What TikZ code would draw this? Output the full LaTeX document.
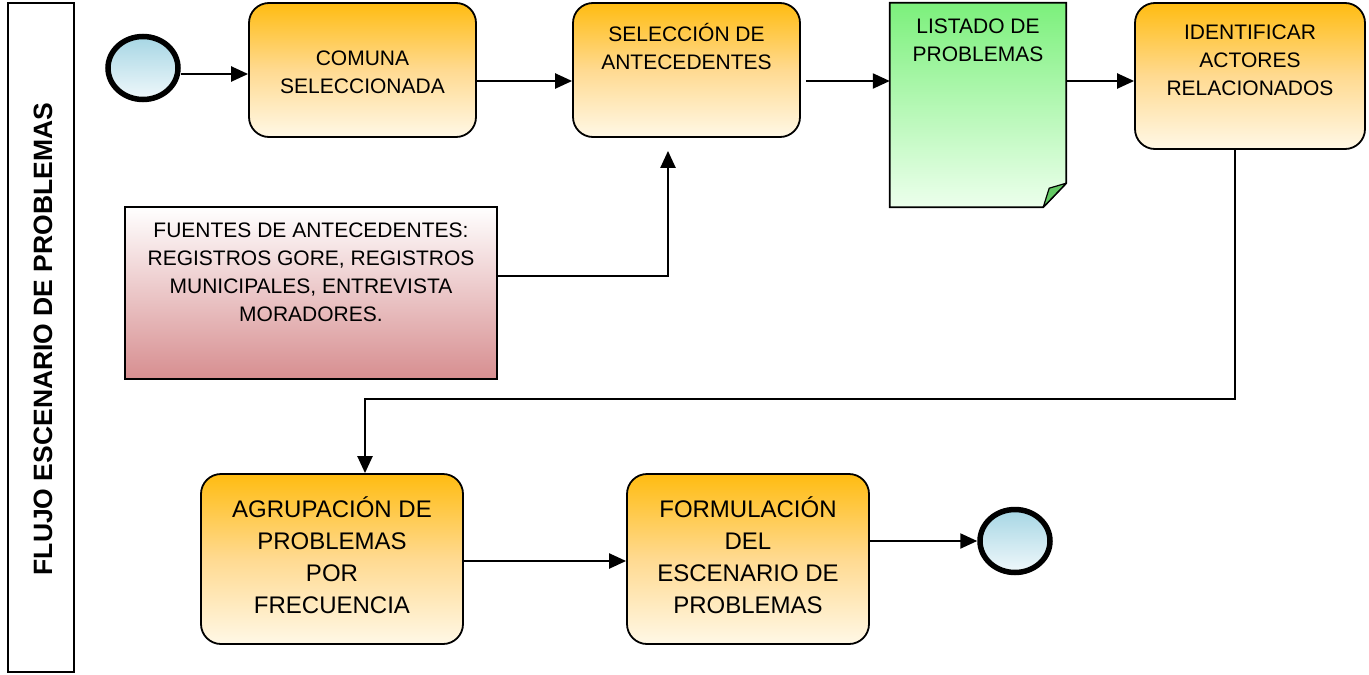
\documentclass[tikz,border=0pt]{standalone}
\usepackage{fontspec}
\setmainfont{Liberation Sans}
\usetikzlibrary{arrows.meta,shapes.geometric,calc}
\definecolor{orT}{RGB}{255,188,18}
\definecolor{orM}{RGB}{255,218,145}
\definecolor{orB}{RGB}{255,248,230}
\definecolor{grT}{RGB}{124,240,124}
\definecolor{grB}{RGB}{236,255,236}
\definecolor{grF}{RGB}{100,200,100}
\definecolor{blT}{RGB}{166,214,228}
\definecolor{blB}{RGB}{240,248,251}
\definecolor{rdB}{RGB}{215,142,144}
\begin{document}
\begin{tikzpicture}[x=1pt,y=-1pt,
  obox/.style={draw=black, line width=1.8pt, rounded corners=20pt, top color=orT, bottom color=orB, middle color=orM, inner sep=0pt},
  fbox/.style={draw=black, line width=1.8pt, top color=white, bottom color=rdB, inner sep=0pt},
  circ/.style={ellipse, draw=black, line width=5.5pt, top color=blT, bottom color=blB, minimum width=70pt, minimum height=63pt, inner sep=0pt},
  txt/.style={font=\fontsize{21}{28}\selectfont, align=center, inner sep=0pt},
  txtb/.style={font=\fontsize{24}{32}\selectfont, align=center, inner sep=0pt},
  arr/.style={line width=2.3pt, -{Triangle[length=17pt,width=15pt]}}]
\useasboundingbox (0,0) rectangle (1369,675);
% lane
\node[draw=black, line width=1.8pt, minimum width=66pt, minimum height=669pt, inner sep=0pt] (lane) at (41,337.5) {};
\node[font=\fontsize{26.5}{30}\selectfont\bfseries, rotate=90, inner sep=0pt] (lanet) at (43,339) {FLUJO ESCENARIO DE PROBLEMAS};
% nodes
\node[circ] (start) at (143,68) {};
\node[obox, minimum width=227pt, minimum height=134pt] (com) at (362.5,70) {};
\node[txt] (comt) at (362.5,72) {COMUNA\\SELECCIONADA};
\node[obox, minimum width=227pt, minimum height=134pt] (sel) at (686.5,70) {};
\node[txt] (selt) at (686.5,46) {SELECCIÓN DE\\ANTECEDENTES};
\node[inner sep=0pt, minimum width=176pt, minimum height=204pt] (lis) at (978,105) {};
\shade[top color=grT, bottom color=grB] (lis.north west) -- (lis.north east) -- ($(lis.south east)+(0,-24)$) -- ($(lis.south east)+(-23,0)$) -- (lis.south west) -- cycle;
\draw[line width=1.8pt, line join=miter] (lis.north west) -- (lis.north east) -- ($(lis.south east)+(0,-24)$) -- ($(lis.south east)+(-23,0)$) -- (lis.south west) -- cycle;
\filldraw[fill=grF, line width=1.2pt, line join=round] ($(lis.south east)+(-23,0)$) -- ($(lis.south east)+(-17,-19)$) .. controls ($(lis.south east)+(-9,-21)$) .. ($(lis.south east)+(0,-24)$) -- cycle;
\node[txt] (list) at (978,40) {LISTADO DE\\PROBLEMAS};
\node[obox, minimum width=230pt, minimum height=146pt] (ide) at (1250,76) {};
\node[txt] (idet) at (1250,60) {IDENTIFICAR\\ACTORES\\RELACIONADOS};
\node[fbox, minimum width=372pt, minimum height=172pt] (fue) at (311,293) {};
\node[txt] (fuet) at (311,272) {FUENTES DE ANTECEDENTES:\\REGISTROS GORE, REGISTROS\\MUNICIPALES, ENTREVISTA\\MORADORES.};
\node[obox, minimum width=262pt, minimum height=170pt] (agr) at (332,559) {};
\node[txtb] (agrt) at (332,555) {AGRUPACIÓN DE\\PROBLEMAS\\POR\\FRECUENCIA};
\node[obox, minimum width=242pt, minimum height=170pt] (for) at (748,559) {};
\node[txtb] (fort) at (748,555) {FORMULACIÓN\\DEL\\ESCENARIO DE\\PROBLEMAS};
\node[circ] (end) at (1015,541) {};
% helper coordinates
\coordinate (y81) at (0,81);
\coordinate (y276) at (0,276);
\coordinate (y399) at (0,399);
\coordinate (y561) at (0,561);
\coordinate (x668) at (668,0);
\coordinate (x1235) at (1235,0);
\coordinate (x365) at (365,0);
% connectors
\draw[arr] ([yshift=-6pt]start.east) -- ([yshift=-6pt]start.east -| com.west);
\draw[arr] (com.east |- y81) -- (sel.west |- y81);
\draw[arr, shorten <=5pt] (sel.east |- y81) -- (lis.west |- y81);
\draw[arr] (lis.east |- y81) -- (ide.west |- y81);
\draw[arr, shorten >=13pt] (fue.east |- y276) -| (x668 |- sel.south);
\draw[arr] (x1235 |- ide.south) -- (x1235 |- y399) -| (x365 |- agr.north);
\draw[arr] (agr.east |- y561) -- (for.west |- y561);
\draw[arr] (for.east |- end.west) -- (end.west);
\end{tikzpicture}
\end{document}
